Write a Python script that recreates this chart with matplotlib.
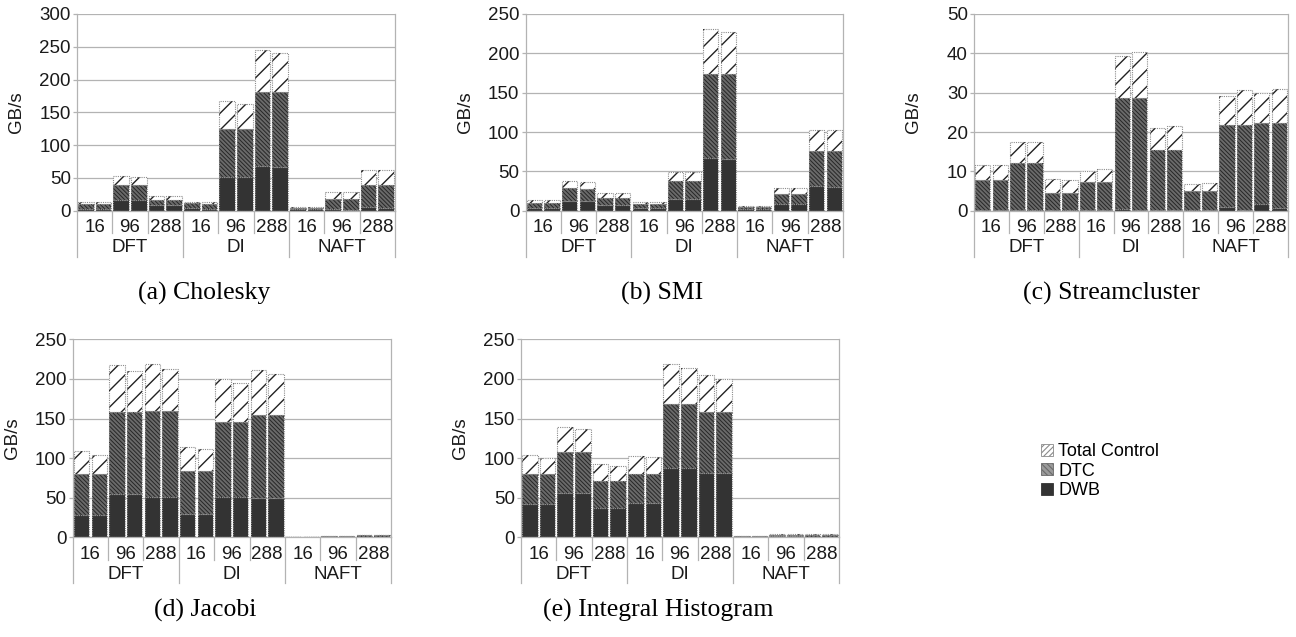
import matplotlib.pyplot as plt
from matplotlib.patches import Patch
import numpy as np

plt.rcParams['font.family'] = 'Liberation Sans'
plt.rcParams['hatch.linewidth'] = 0.8

groups = ['DFT', 'DI', 'NAFT']
threads = ['16', '96', '288']
series = ['DWB', 'DTC', 'Total Control']

# each benchmark has 18 bars: 3 modes x 3 thread counts x 2 runs (GB/s per stacked segment)
cholesky_dwb = [3, 3, 16, 16, 8, 8, 4, 3, 51, 51, 68, 67, 2.5, 2, 3, 1, 5.6, 4]
cholesky_dtc = [7, 7, 23, 23, 9, 9, 7, 7, 73.5, 73.5, 113, 114, 1.5, 2, 15, 17, 33, 34.6]
cholesky_ctrl = [3, 3, 14, 12, 6, 6, 3, 3, 42.5, 38.5, 63.5, 59.5, 1, 1, 10, 10, 22.9, 22.9]

smi_dwb = [4, 4, 12, 12, 7.6, 7.6, 3.4, 3, 14.8, 15, 67, 66, 2, 2, 8.5, 8.5, 31.4, 29.7]
smi_dtc = [6, 6, 16.4, 16, 8.9, 8.9, 5.1, 5.5, 22.9, 22.7, 107, 108, 2.5, 2.3, 12.7, 12.7, 44.9, 46.6]
smi_ctrl = [3, 3, 9.6, 9, 6, 6, 2.5, 2, 11.9, 11.9, 56.5, 52.7, 1.5, 1.5, 8, 8, 26.3, 26.3]

stream_dwb = [0.2, 0.2, 0.2, 0.2, 0.1, 0.1, 0.2, 0.2, 0.4, 0.2, 0.1, 0.1, 0.2, 0.2, 0.9, 0.2, 1.8, 0.7]
stream_dtc = [7.6, 7.6, 11.9, 11.9, 4.3, 4.3, 7.1, 7.1, 28.2, 28.4, 15.3, 15.3, 4.8, 4.8, 20.9, 21.6, 20.6, 21.5]
stream_ctrl = [3.8, 3.8, 5.4, 5.4, 3.6, 3.4, 2.9, 3.2, 10.6, 11.8, 5.5, 6.1, 1.9, 2.1, 7.3, 8.8, 7.5, 8.8]

jacobi_dwb = [28.2, 27.8, 54.3, 54.3, 50.5, 50.5, 29.5, 29.5, 50.5, 50.5, 50, 50, 0.3, 0.3, 0.6, 0.6, 1.0, 1.0]
jacobi_dtc = [51.3, 51.7, 103.7, 103.7, 108.5, 108.5, 54.3, 54.3, 95.1, 95.1, 104, 104, 0.4, 0.4, 0.9, 0.9, 1.4, 1.4]
jacobi_ctrl = [29.1, 24.9, 59, 51.6, 60, 54, 30.7, 27.2, 54.4, 48.8, 57.7, 51.8, 0.2, 0.2, 0.4, 0.4, 0.6, 0.6]

histo_dwb = [41.7, 41.7, 56, 56, 37, 37, 43.8, 43.8, 88, 88, 81.6, 81.6, 0.6, 0.6, 1.2, 1.2, 1.0, 1.0]
histo_dtc = [37.8, 37.8, 51.7, 51.7, 34.1, 34.1, 35.7, 35.7, 80.4, 80.4, 76.2, 76.2, 0.6, 0.6, 2.0, 2.0, 1.8, 1.8]
histo_ctrl = [24, 21.1, 32, 28.7, 21.1, 18.9, 23.5, 21.5, 50, 45, 46.7, 42.2, 0.3, 0.3, 1.3, 1.3, 0.9, 0.9]

GRID = '#b3b3b3'
TXT = '#1a1a1a'
FS = 13.5
W, H = 1296, 637


def hatch_width(bars, lw):
    for p in bars:
        if hasattr(p, 'set_hatch_linewidth'):
            p.set_hatch_linewidth(lw)


def draw_panel(ax, dwb, dtc, ctrl, ymax, step):
    x = np.arange(len(dwb))
    dwb = np.array(dwb, dtype=float)
    dtc = np.array(dtc, dtype=float)
    ctrl = np.array(ctrl, dtype=float)
    w = 0.87

    ax.bar(x, dwb, w, color='#333333', edgecolor='#333333', linewidth=0)
    b2 = ax.bar(x, dtc, w, bottom=dwb, color='#6a6a6a', edgecolor='#262626',
                linewidth=0, hatch='\\\\\\\\\\\\\\\\')
    hatch_width(b2, 0.7)
    b3 = ax.bar(x, ctrl, w, bottom=dwb + dtc, color='white', edgecolor='#222222',
                linewidth=0, hatch='//')
    hatch_width(b3, 1.0)
    # dotted outlines round every segment
    for seg, bot in ((dwb, 0), (dtc, dwb), (ctrl, dwb + dtc)):
        ax.bar(x, seg, w, bottom=bot, fill=False, edgecolor='#8c8c8c',
               linewidth=0.8, linestyle=(0, (1, 1)))

    ax.set_xlim(-0.5, len(dwb) - 0.5)
    ax.set_ylim(0, ymax)
    ax.set_yticks(np.arange(0, ymax + 1, step))
    ax.set_xticks([])
    ax.grid(axis='y', color=GRID, linewidth=0.9)
    ax.set_axisbelow(True)
    for s in ax.spines.values():
        s.set_color(GRID)
        s.set_linewidth(0.9)
    ax.spines['top'].set_visible(False)
    ax.tick_params(axis='y', length=3, width=0.9, color=GRID, pad=1.5,
                   labelsize=FS, labelcolor=TXT)
    ax.set_ylabel('GB/s', fontsize=FS, color=TXT)
    ax.yaxis.set_label_coords(-52 / (ax.get_position().width * W), 0.5)

    # two-level category axis below the plot
    px_h = ax.get_position().height * H
    row1 = -22.5 / px_h
    row2 = -46 / px_h
    tr = ax.get_xaxis_transform()
    n_sub = len(groups) * len(threads)
    for i in range(n_sub):
        ax.text(2 * i + 0.5, -17 / px_h, threads[i % len(threads)], transform=tr,
                ha='center', va='center', fontsize=FS, color=TXT)
        if i % len(threads):
            ax.plot([2 * i - 0.5] * 2, [0, row1], transform=tr, color=GRID,
                    linewidth=0.9, clip_on=False)
    for g, name in enumerate(groups):
        ax.text(6 * g + 2.5, -37 / px_h, name, transform=tr,
                ha='center', va='center', fontsize=FS, color=TXT)
    for xb in np.arange(0, len(dwb) + 1, 6) - 0.5:
        ax.plot([xb, xb], [0, row2], transform=tr, color=GRID,
                linewidth=0.9, clip_on=False)


fig = plt.figure(figsize=(12.96, 6.37), dpi=100)

panels = [
    ((77, 14, 318, 196.7), cholesky_dwb, cholesky_dtc, cholesky_ctrl, 300, 50),
    ((525.7, 14, 317.3, 196.7), smi_dwb, smi_dtc, smi_ctrl, 250, 50),
    ((974, 14, 314, 196.7), stream_dwb, stream_dtc, stream_ctrl, 50, 10),
    ((72.7, 339.3, 318.3, 198), jacobi_dwb, jacobi_dtc, jacobi_ctrl, 250, 50),
    ((521, 339.3, 318, 198), histo_dwb, histo_dtc, histo_ctrl, 250, 50),
]

for (l, t, w, h), dwb, dtc, ctrl, ymax, step in panels:
    ax = fig.add_axes([l / W, 1 - (t + h) / H, w / W, h / H])
    draw_panel(ax, dwb, dtc, ctrl, ymax, step)

captions = [('(a) Cholesky', 204, 293), ('(b) SMI', 662, 293),
            ('(c) Streamcluster', 1111, 293), ('(d) Jacobi', 205, 610),
            ('(e) Integral Histogram', 658, 610)]
for txt, cx, cy in captions:
    fig.text(cx / W, 1 - cy / H, txt, ha='center', va='center',
             family='Liberation Serif', fontsize=18.5, color='black')

legend_patches = [
    Patch(facecolor='white', edgecolor='#8a8a8a', hatch='//////', linewidth=0.6),
    Patch(facecolor='#9a9a9a', edgecolor='#6a6a6a', hatch='\\\\\\\\\\\\', linewidth=0.6),
    Patch(facecolor='#333333', edgecolor='#333333', linewidth=0.6),
]
fig.legend(legend_patches, series[::-1], loc='upper left',
           bbox_to_anchor=(1041 / W, 1 - 443 / H), frameon=False,
           fontsize=13, handlelength=0.65, handleheight=0.65,
           handletextpad=0.3, labelspacing=0.15, borderpad=0,
           borderaxespad=0)

fig.savefig('out.png', dpi=100)
